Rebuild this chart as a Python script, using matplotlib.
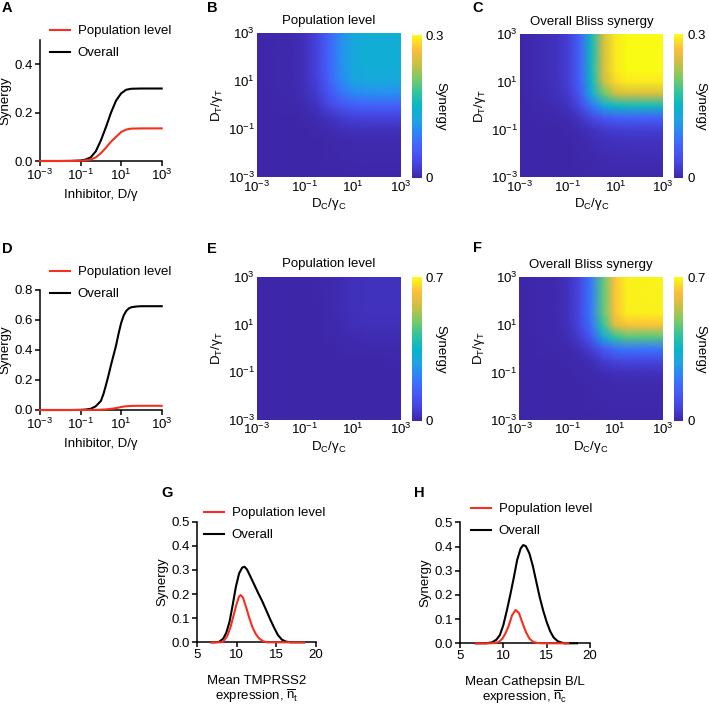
import numpy as np
import matplotlib
matplotlib.use('Agg')
import matplotlib.pyplot as plt
from matplotlib.colors import LinearSegmentedColormap
from matplotlib.ticker import NullLocator

plt.rcParams['font.family'] = 'Liberation Sans'
plt.rcParams['mathtext.fontset'] = 'custom'
plt.rcParams['mathtext.rm'] = 'Liberation Sans'
plt.rcParams['mathtext.it'] = 'Liberation Sans'
plt.rcParams['mathtext.bf'] = 'Liberation Sans:bold'
plt.rcParams['font.size'] = 9.5

# ---- data ----
# A : synergy vs inhibitor dose, x given as log10(D/gamma)
dose_A = [-3, -2, -1.5, -1, -0.75, -0.5, -0.25, 0, 0.25, 0.5, 0.75, 1, 1.25, 1.5, 2, 3]
pop_A = [0, 0, 0, 0.001, 0.003, 0.006, 0.015, 0.032, 0.055, 0.08, 0.1, 0.12, 0.13, 0.134, 0.135, 0.135]
overall_A = [0, 0, 0.0005, 0.002, 0.006, 0.015, 0.04, 0.085, 0.14, 0.2, 0.25, 0.28, 0.295, 0.299, 0.3, 0.3]
# D
dose_D = [-3, -2, -1.5, -1, -0.75, -0.5, -0.25, 0, 0.125, 0.25, 0.375, 0.5, 0.625, 0.75, 0.875,
          1, 1.125, 1.25, 1.375, 1.5, 1.75, 2, 3]
pop_D = [0, 0, 0, 0, 0, 0.001, 0.001, 0.002, 0.003, 0.004, 0.006, 0.008, 0.01, 0.013, 0.016,
         0.02, 0.023, 0.025, 0.026, 0.027, 0.028, 0.028, 0.028]
overall_D = [0, 0, 0, 0.001, 0.003, 0.008, 0.025, 0.06, 0.105, 0.165, 0.23, 0.3, 0.365, 0.43, 0.51,
             0.58, 0.63, 0.66, 0.677, 0.685, 0.69, 0.692, 0.692]

# B, C, E, F : heat maps on a log10 grid (rows = D_T/gamma_T, cols = D_C/gamma_C)
grid_exp = [-3, -1.5, -1, -0.5, 0, 0.5, 1, 1.5, 3]
map_B = [
    [0, 0, 0, 0, 0, 0, 0, 0, 0],
    [0, 0.0001, 0.0003, 0.0009, 0.002, 0.0031, 0.0038, 0.004, 0.004],
    [0, 0.0003, 0.001, 0.0024, 0.0057, 0.0089, 0.0109, 0.0116, 0.0116],
    [0, 0.0009, 0.0024, 0.006, 0.0139, 0.0218, 0.0266, 0.0284, 0.0284],
    [0, 0.002, 0.0057, 0.0139, 0.0324, 0.0509, 0.0622, 0.0662, 0.0662],
    [0, 0.0031, 0.0089, 0.0218, 0.0509, 0.08, 0.0977, 0.104, 0.104],
    [0, 0.0038, 0.0109, 0.0266, 0.0622, 0.0977, 0.1193, 0.1269, 0.1269],
    [0, 0.004, 0.0116, 0.0284, 0.0662, 0.104, 0.1269, 0.135, 0.135],
    [0, 0.004, 0.0116, 0.0284, 0.0662, 0.104, 0.1269, 0.135, 0.135],
]
map_C = [
    [0, 0, 0, 0, 0, 0, 0, 0, 0],
    [0, 0.0005, 0.001, 0.0026, 0.0064, 0.0098, 0.0116, 0.012, 0.012],
    [0, 0.001, 0.0019, 0.0053, 0.0127, 0.0197, 0.0233, 0.024, 0.024],
    [0, 0.0026, 0.0053, 0.0145, 0.035, 0.054, 0.064, 0.066, 0.066],
    [0, 0.0064, 0.0127, 0.035, 0.084, 0.13, 0.154, 0.159, 0.159],
    [0, 0.0098, 0.0197, 0.054, 0.13, 0.2, 0.239, 0.246, 0.246],
    [0, 0.0116, 0.0233, 0.064, 0.154, 0.239, 0.282, 0.291, 0.291],
    [0, 0.012, 0.024, 0.066, 0.159, 0.246, 0.291, 0.3, 0.3],
    [0, 0.012, 0.024, 0.066, 0.159, 0.246, 0.291, 0.3, 0.3],
]
map_E = [
    [0, 0, 0, 0, 0, 0, 0, 0, 0],
    [0, 0, 0, 0, 0, 0, 0, 0, 0],
    [0, 0, 0, 0.0001, 0.0002, 0.0004, 0.0007, 0.0008, 0.0008],
    [0, 0, 0.0001, 0.0003, 0.0008, 0.0015, 0.0024, 0.0027, 0.0028],
    [0, 0, 0.0002, 0.0008, 0.002, 0.004, 0.0064, 0.0074, 0.0076],
    [0, 0, 0.0004, 0.0015, 0.004, 0.0079, 0.0126, 0.0145, 0.0148],
    [0, 0, 0.0007, 0.0024, 0.0064, 0.0126, 0.0202, 0.0233, 0.0238],
    [0, 0, 0.0008, 0.0027, 0.0074, 0.0145, 0.0233, 0.0269, 0.0274],
    [0, 0, 0.0008, 0.0028, 0.0076, 0.0148, 0.0238, 0.0274, 0.028],
]
map_F = [
    [0, 0, 0, 0, 0, 0, 0, 0, 0],
    [0, 0.0002, 0.0004, 0.0011, 0.003, 0.0069, 0.0095, 0.0103, 0.0104],
    [0, 0.0004, 0.001, 0.0028, 0.0076, 0.0174, 0.0242, 0.0262, 0.0263],
    [0, 0.0011, 0.0028, 0.0081, 0.0217, 0.0493, 0.0688, 0.0744, 0.0747],
    [0, 0.003, 0.0076, 0.0217, 0.0582, 0.1325, 0.1846, 0.1997, 0.2007],
    [0, 0.0069, 0.0174, 0.0493, 0.1325, 0.3014, 0.4202, 0.4544, 0.4567],
    [0, 0.0095, 0.0242, 0.0688, 0.1846, 0.4202, 0.5857, 0.6334, 0.6366],
    [0, 0.0103, 0.0262, 0.0744, 0.1997, 0.4544, 0.6334, 0.6851, 0.6885],
    [0, 0.0104, 0.0263, 0.0747, 0.2007, 0.4567, 0.6366, 0.6885, 0.692],
]

# G : synergy vs mean TMPRSS2 expression
g_pop_x = [6.8, 8.0, 8.3, 8.8, 9.2, 9.6, 10.0, 10.3, 10.5, 10.8, 11.2, 11.6, 12.0, 12.4, 12.8, 13.3, 13.8, 18.5]
g_pop_y = [0, 0, 0.003, 0.025, 0.06, 0.11, 0.16, 0.19, 0.196, 0.185, 0.145, 0.1, 0.062, 0.035, 0.017, 0.005, 0, 0]
g_all_x = [6.8, 7.3, 7.8, 8.3, 8.7, 9.1, 9.5, 9.9, 10.3, 10.7, 11.0, 11.3, 11.7, 12.2, 12.7, 13.2, 13.7,
           14.2, 14.7, 15.2, 15.7, 16.2, 16.8, 18.5]
g_all_y = [0, 0, 0.002, 0.015, 0.04, 0.085, 0.155, 0.23, 0.285, 0.31, 0.313, 0.302, 0.275, 0.24, 0.205,
           0.172, 0.135, 0.097, 0.062, 0.03, 0.011, 0.003, 0, 0]

# H : synergy vs mean Cathepsin B/L expression
h_pop_x = [6.8, 8.5, 9.0, 9.5, 9.9, 10.2, 10.6, 11.0, 11.42, 11.8, 12.2, 12.6, 13.0, 13.4, 13.9, 14.5, 17.5]
h_pop_y = [0, 0, 0.001, 0.006, 0.02, 0.038, 0.07, 0.115, 0.138, 0.125, 0.085, 0.047, 0.02, 0.007, 0.001, 0, 0]
h_all_x = [6.8, 8.0, 8.7, 9.2, 9.6, 10.0, 10.4, 10.8, 11.2, 11.6, 12.0, 12.3, 12.6, 13.0, 13.4, 13.8,
           14.2, 14.6, 15.0, 15.4, 15.8, 16.3, 17.0, 18.5]
h_all_y = [0, 0, 0.004, 0.015, 0.034, 0.075, 0.135, 0.2, 0.27, 0.345, 0.392, 0.406, 0.401, 0.372, 0.32,
           0.255, 0.19, 0.135, 0.088, 0.05, 0.024, 0.008, 0, 0]

# ---- style ----
RED = '#f5301e'
parula = LinearSegmentedColormap.from_list('parula', [
    (0.2422, 0.1504, 0.6603), (0.2734, 0.2691, 0.8768), (0.2780, 0.3556, 0.9777),
    (0.1997, 0.4888, 0.9880), (0.1157, 0.6395, 0.8910), (0.0281, 0.7124, 0.7845),
    (0.1931, 0.7727, 0.6129), (0.4899, 0.7929, 0.3868), (0.8007, 0.7491, 0.2600),
    (0.9936, 0.7406, 0.2355), (0.9769, 0.9839, 0.0805)])

W, H = 709, 706
fig = plt.figure(figsize=(W / 100, H / 100), dpi=100)


def px(l, t, r, b):
    return [l / W, 1 - b / H, (r - l) / W, (b - t) / H]


def letter(x, y, s):
    fig.text(x / W, 1 - y / H, s, fontsize=10.5, fontweight='bold', ha='center', va='center')


def line_panel(rect, x, pop, overall, ymax, yticks, xlabel, legxy, logx=True, xlim=None, xticks=None, xlpad=4):
    ax = fig.add_axes(px(*rect))
    ax.plot(x[1], overall, color='black', lw=1.5, zorder=3, clip_on=False, label='Overall')
    ax.plot(x[0], pop, color=RED, lw=1.5, zorder=4, clip_on=False, label='Population level')
    if logx:
        ax.set_xscale('log')
        ax.set_xlim(1e-3, 1e3)
        ax.set_xticks([1e-3, 1e-1, 1e1, 1e3])
        ax.xaxis.set_minor_locator(NullLocator())
    else:
        ax.set_xlim(*xlim)
        ax.set_xticks(xticks)
    ax.set_ylim(0, ymax)
    ax.set_yticks(yticks)
    ax.set_yticklabels(['%.1f' % v for v in yticks])
    for s in ['top', 'right']:
        ax.spines[s].set_visible(False)
    for s in ['left', 'bottom']:
        ax.spines[s].set_linewidth(1.1)
    ax.tick_params(length=3.5, width=1.1, pad=1.5)
    ax.set_ylabel('Synergy', labelpad=2)
    ax.set_xlabel(xlabel, labelpad=xlpad, linespacing=1.05)
    h, l = ax.get_legend_handles_labels()
    ax.legend(h[::-1], l[::-1], loc='upper left', bbox_to_anchor=(legxy[0] / W, 1 - legxy[1] / H),
              bbox_transform=fig.transFigure, frameon=False, borderpad=0, borderaxespad=0,
              handlelength=1.5, handletextpad=0.6, labelspacing=0.75)
    return ax


def heat_panel(rect, cbrect, z, vmax, title, lab_x):
    ax = fig.add_axes(px(*rect))
    g = 10.0 ** np.array(grid_exp)
    m = ax.pcolormesh(g, g, np.array(z), shading='gouraud', cmap=parula, vmin=0, vmax=vmax)
    ax.set_xscale('log')
    ax.set_yscale('log')
    ax.set_xlim(1e-3, 1e3)
    ax.set_ylim(1e-3, 1e3)
    ax.set_xticks([1e-3, 1e-1, 1e1, 1e3])
    ax.set_yticks([1e-3, 1e-1, 1e1, 1e3])
    ax.xaxis.set_minor_locator(NullLocator())
    ax.yaxis.set_minor_locator(NullLocator())
    ax.tick_params(length=0, pad=1.5)
    for s in ax.spines.values():
        s.set_visible(False)
    ax.set_title(title, fontsize=9.5, pad=7)
    ax.set_xlabel('D$_{C}$/γ$_{C}$', labelpad=1)
    ax.set_ylabel('D$_{T}$/γ$_{T}$', labelpad=2)
    cax = fig.add_axes(px(*cbrect))
    cb = fig.colorbar(m, cax=cax, ticks=[0, vmax])
    cb.outline.set_visible(False)
    cb.ax.set_yticklabels(['0', ('%.1f' % vmax)])
    cb.ax.tick_params(length=0, pad=3)
    cb.set_label('Synergy', rotation=270)
    cb.ax.yaxis.set_label_coords(lab_x, 0.5)
    cb.ax.yaxis.label.set_va('center')
    return ax


line_panel((40, 40.2, 161.7, 161), (10.0 ** np.array(dose_A), 10.0 ** np.array(dose_A)),
           pop_A, overall_A, 0.5, [0, 0.2, 0.4], 'Inhibitor, D/γ', (50, 25))
line_panel((40, 290, 161.7, 410), (10.0 ** np.array(dose_D), 10.0 ** np.array(dose_D)),
           pop_D, overall_D, 0.8, [0, 0.2, 0.4, 0.6, 0.8], 'Inhibitor, D/γ', (50, 266))

heat_panel((256.7, 33.3, 400.7, 177.3), (412.3, 35, 421.7, 178), map_B, 0.3, 'Population level', 2.95)
heat_panel((520, 34.3, 663.3, 177.3), (674, 34.3, 683.3, 178), map_C, 0.3, 'Overall Bliss synergy', 2.85)
heat_panel((256.7, 276.7, 400.7, 420), (412.3, 277.3, 421.7, 420.7), map_E, 0.7, 'Population level', 2.95)
heat_panel((519.3, 277.3, 662.7, 420), (674, 277.3, 683.3, 420.7), map_F, 0.7, 'Overall Bliss synergy', 2.85)

line_panel((197, 521.7, 316, 642.3), (g_pop_x, g_all_x), g_pop_y, g_all_y, 0.5,
           [0, 0.1, 0.2, 0.3, 0.4, 0.5], 'Mean TMPRSS2\nexpression, $\\overline{\\mathregular{n}}_{t}$',
           (204, 507), logx=False, xlim=(5, 20), xticks=[5, 10, 15, 20], xlpad=10)
line_panel((460, 522.3, 590, 643.3), (h_pop_x, h_all_x), h_pop_y, h_all_y, 0.5,
           [0, 0.1, 0.2, 0.3, 0.4, 0.5], 'Mean Cathepsin B/L\nexpression, $\\overline{\\mathregular{n}}_{c}$',
           (471, 503), logx=False, xlim=(5, 20), xticks=[5, 10, 15, 20], xlpad=10)

letter(7, 8, 'A')
letter(212, 8, 'B')
letter(478, 8, 'C')
letter(7, 249, 'D')
letter(212, 249, 'E')
letter(478, 248, 'F')
letter(167, 493, 'G')
letter(419, 493, 'H')

fig.savefig('out.png', dpi=100)
